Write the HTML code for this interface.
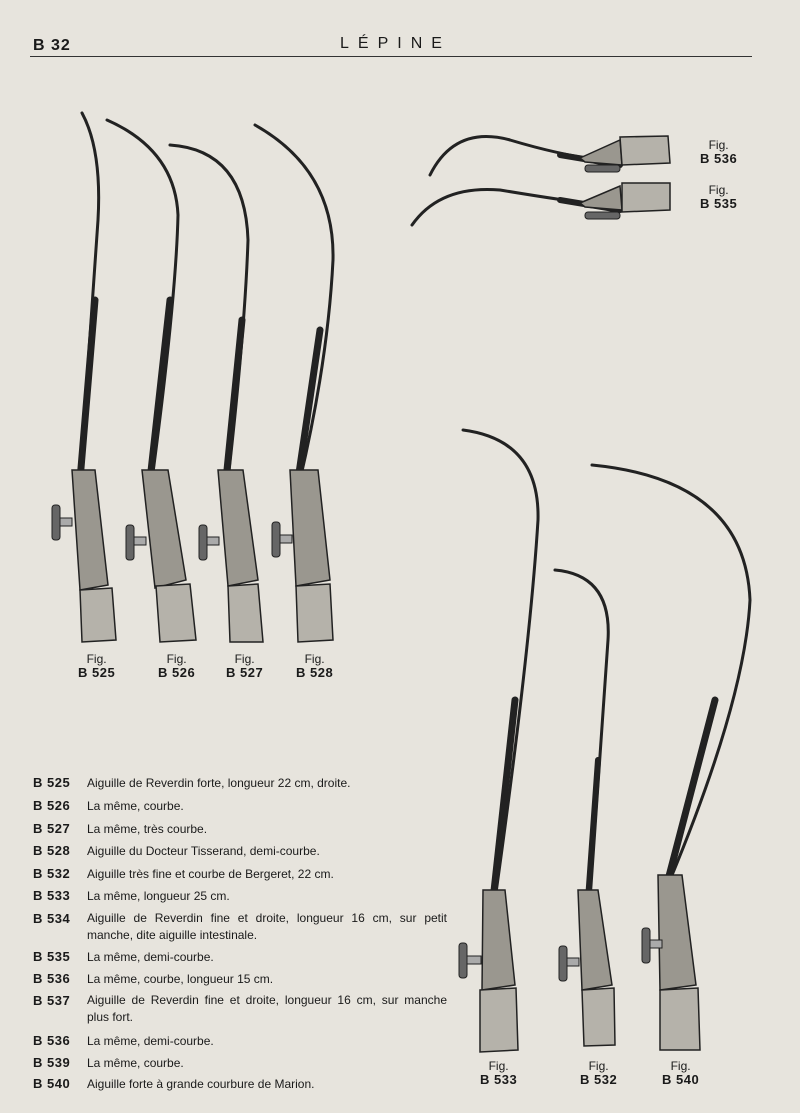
<!DOCTYPE html>
<html><head><meta charset="utf-8"><style>
body{margin:0;width:800px;height:1113px;background:#e7e4dd;font-family:"Liberation Sans",sans-serif;color:#1a1a1a;position:relative;overflow:hidden}
.t{position:absolute;font-size:12px}
.b{position:absolute;left:33px;font-weight:bold;font-size:13px;letter-spacing:0.5px}
.d{position:absolute;left:87px;font-size:12px;width:360px;line-height:17px;text-align:justify}
.f{position:absolute;font-size:12px;text-align:center;line-height:13px}
.f b{font-size:13px;font-weight:bold;letter-spacing:0.5px}
</style></head><body>
<div class="t" style="left:33px;top:37px;font-size:16px;font-weight:bold;letter-spacing:1px">B 32</div>
<div class="t" style="left:340px;top:35px;font-size:16px;letter-spacing:9px">LÉPINE</div>
<div style="position:absolute;left:30px;top:56px;width:722px;height:1px;background:#333"></div>
<svg width="800" height="1113" style="position:absolute;left:0;top:0" fill="none" stroke="#222">
<g stroke-linecap="round">
<!-- B525 -->
<path d="M82 113 Q102 150 98 220 L80 480" stroke-width="3"/>
<path d="M95 300 L80 480" stroke-width="7"/>
<path d="M72 470 L95 470 L108 585 L80 590 Z" fill="#9a978f" stroke-width="1.5"/>
<path d="M80 590 L112 588 L116 640 L82 642 Z" fill="#b5b2aa" stroke-width="1.5"/>
<rect x="52" y="505" width="8" height="35" rx="3" fill="#666" stroke-width="1"/><rect x="60" y="518" width="12" height="8" fill="#aaa" stroke-width="1"/>
<!-- B526 -->
<path d="M107 120 Q175 150 178 215 Q176 300 152 480" stroke-width="3"/>
<path d="M170 300 L150 480" stroke-width="7"/>
<path d="M142 470 L168 470 L186 580 L155 588 Z" fill="#9a978f" stroke-width="1.5"/>
<path d="M156 586 L190 584 L196 640 L160 642 Z" fill="#b5b2aa" stroke-width="1.5"/>
<rect x="126" y="525" width="8" height="35" rx="3" fill="#666" stroke-width="1"/><rect x="134" y="537" width="12" height="8" fill="#aaa" stroke-width="1"/>
<!-- B527 -->
<path d="M170 145 Q245 150 248 240 Q245 330 228 480" stroke-width="3"/>
<path d="M242 320 L226 480" stroke-width="7"/>
<path d="M218 470 L243 470 L258 580 L228 586 Z" fill="#9a978f" stroke-width="1.5"/>
<path d="M228 586 L258 584 L263 642 L230 642 Z" fill="#b5b2aa" stroke-width="1.5"/>
<rect x="199" y="525" width="8" height="35" rx="3" fill="#666" stroke-width="1"/><rect x="207" y="537" width="12" height="8" fill="#aaa" stroke-width="1"/>
<!-- B528 -->
<path d="M255 125 Q335 170 333 260 Q328 360 300 480" stroke-width="3"/>
<path d="M320 330 L298 480" stroke-width="7"/>
<path d="M290 470 L318 470 L330 580 L296 586 Z" fill="#9a978f" stroke-width="1.5"/>
<path d="M296 586 L330 584 L333 640 L298 642 Z" fill="#b5b2aa" stroke-width="1.5"/>
<rect x="272" y="522" width="8" height="35" rx="3" fill="#666" stroke-width="1"/><rect x="280" y="535" width="12" height="8" fill="#aaa" stroke-width="1"/>
<!-- B536 -->
<path d="M430 175 Q455 125 510 140 Q560 155 600 160" stroke-width="3"/>
<path d="M560 155 L620 165" stroke-width="6"/>
<path d="M580 158 L620 140 L622 165 L585 162 Z" fill="#9a978f" stroke-width="1.5"/>
<path d="M620 137 L668 136 L670 163 L622 165 Z" fill="#b5b2aa" stroke-width="1.5"/>
<rect x="585" y="165" width="35" height="7" rx="3" fill="#666" stroke-width="1"/>
<!-- B535 -->
<path d="M412 225 Q440 185 500 190 Q560 200 600 205" stroke-width="3"/>
<path d="M560 200 L620 210" stroke-width="6"/>
<path d="M580 203 L620 186 L622 210 L585 207 Z" fill="#9a978f" stroke-width="1.5"/>
<path d="M622 183 L670 183 L670 210 L622 212 Z" fill="#b5b2aa" stroke-width="1.5"/>
<rect x="585" y="212" width="35" height="7" rx="3" fill="#666" stroke-width="1"/>
<!-- B533 -->
<path d="M463 430 Q540 440 538 520 Q530 650 495 900" stroke-width="3"/>
<path d="M515 700 L493 900" stroke-width="7"/>
<path d="M483 890 L505 890 L515 985 L482 990 Z" fill="#9a978f" stroke-width="1.5"/>
<path d="M480 990 L516 988 L518 1050 L480 1052 Z" fill="#b5b2aa" stroke-width="1.5"/>
<rect x="459" y="943" width="8" height="35" rx="3" fill="#666" stroke-width="1"/><rect x="467" y="956" width="14" height="8" fill="#aaa" stroke-width="1"/>
<!-- B532 -->
<path d="M555 570 Q612 575 608 640 Q600 760 590 900" stroke-width="3"/>
<path d="M598 760 L588 900" stroke-width="6"/>
<path d="M578 890 L598 890 L612 985 L582 990 Z" fill="#9a978f" stroke-width="1.5"/>
<path d="M582 990 L614 988 L615 1045 L584 1046 Z" fill="#b5b2aa" stroke-width="1.5"/>
<rect x="559" y="946" width="8" height="35" rx="3" fill="#666" stroke-width="1"/><rect x="567" y="958" width="12" height="8" fill="#aaa" stroke-width="1"/>
<!-- B540 -->
<path d="M592 465 Q745 480 750 600 Q745 700 670 880" stroke-width="3"/>
<path d="M715 700 L668 880" stroke-width="7"/>
<path d="M658 875 L682 875 L696 985 L660 990 Z" fill="#9a978f" stroke-width="1.5"/>
<path d="M660 990 L698 988 L700 1050 L660 1050 Z" fill="#b5b2aa" stroke-width="1.5"/>
<rect x="642" y="928" width="8" height="35" rx="3" fill="#666" stroke-width="1"/><rect x="650" y="940" width="12" height="8" fill="#aaa" stroke-width="1"/>
</g>
</svg>
<div class="f" style="left:78px;top:653px">Fig.<br><b>B 525</b></div>
<div class="f" style="left:158px;top:653px">Fig.<br><b>B 526</b></div>
<div class="f" style="left:226px;top:653px">Fig.<br><b>B 527</b></div>
<div class="f" style="left:296px;top:653px">Fig.<br><b>B 528</b></div>
<div class="f" style="left:700px;top:139px">Fig.<br><b>B 536</b></div>
<div class="f" style="left:700px;top:184px">Fig.<br><b>B 535</b></div>
<div class="f" style="left:480px;top:1060px">Fig.<br><b>B 533</b></div>
<div class="f" style="left:580px;top:1060px">Fig.<br><b>B 532</b></div>
<div class="f" style="left:662px;top:1060px">Fig.<br><b>B 540</b></div>

<div class="b" style="top:775px">B 525</div><div class="d" style="top:775px">Aiguille de Reverdin forte, longueur 22 cm, droite.</div>
<div class="b" style="top:798px">B 526</div><div class="d" style="top:798px">La même, courbe.</div>
<div class="b" style="top:821px">B 527</div><div class="d" style="top:821px">La même, très courbe.</div>
<div class="b" style="top:843px">B 528</div><div class="d" style="top:843px">Aiguille du Docteur Tisserand, demi-courbe.</div>
<div class="b" style="top:866px">B 532</div><div class="d" style="top:866px">Aiguille très fine et courbe de Bergeret, 22 cm.</div>
<div class="b" style="top:888px">B 533</div><div class="d" style="top:888px">La même, longueur 25 cm.</div>
<div class="b" style="top:911px">B 534</div><div class="d" style="top:910px">Aiguille de Reverdin fine et droite, longueur 16 cm, sur petit manche, dite aiguille intestinale.</div>
<div class="b" style="top:949px">B 535</div><div class="d" style="top:949px">La même, demi-courbe.</div>
<div class="b" style="top:971px">B 536</div><div class="d" style="top:971px">La même, courbe, longueur 15 cm.</div>
<div class="b" style="top:993px">B 537</div><div class="d" style="top:992px">Aiguille de Reverdin fine et droite, longueur 16 cm, sur manche plus fort.</div>
<div class="b" style="top:1033px">B 536</div><div class="d" style="top:1033px">La même, demi-courbe.</div>
<div class="b" style="top:1055px">B 539</div><div class="d" style="top:1055px">La même, courbe.</div>
<div class="b" style="top:1076px">B 540</div><div class="d" style="top:1076px">Aiguille forte à grande courbure de Marion.</div>
</body></html>
